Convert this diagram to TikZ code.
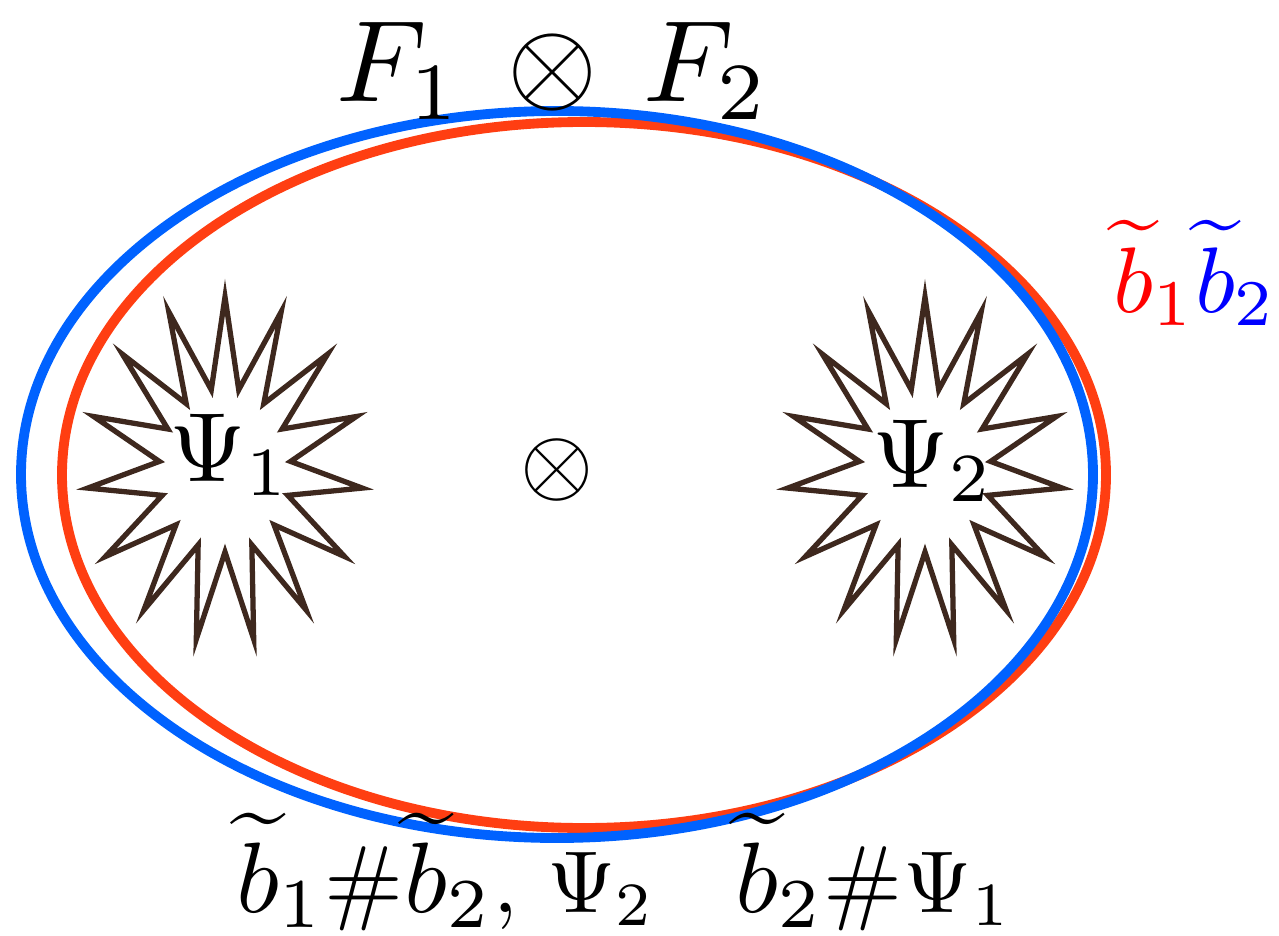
\documentclass[tikz,border=0pt]{standalone}
\usepackage{amsmath,amssymb}
\usepackage{graphicx}
\usepackage{tikz}
\usetikzlibrary{positioning,calc}
\usepackage{xcolor}
\definecolor{fblue}{RGB}{0,98,255}
\definecolor{fred}{RGB}{255,62,18}
\definecolor{sbrown}{RGB}{62,40,30}
% math blown up from 10pt
\newcommand{\sizedm}[2]{\scalebox{#1}{$#2$}}
\tikzset{
  fibre/.style     = {line width=5.6pt},
  burstline/.style = {draw=sbrown, line width=3pt, line join=miter},
  burst/.pic       = {\draw[burstline] (270:138 and 173)
                      \foreach \k in {0,...,14}{-- (282+24*\k:66 and 82) -- (294+24*\k:138 and 173)} -- cycle;},
  lab/.style       = {inner sep=0pt, anchor=base},
}
\begin{document}
\begin{tikzpicture}[x=0.02cm,y=-0.02cm]
\useasboundingbox (0,0) rectangle (1279,936);
% the two fibres
\draw[fibre,fred] (584,475) ellipse [x radius=522,y radius=353];
\draw[fibre,fblue] (557,474.5) ellipse [x radius=536,y radius=363.5];
% singular points
\pic at (225,470) {burst};
\pic at (925,470) {burst};
\node[lab] (sing1) at (230,481) {\sizedm{5.6}{\Psi_1}};
\node[lab] (sing2) at (933,487) {\sizedm{5.6}{\Psi_2}};
\node[lab] (prod) at (557,493) {\sizedm{5.35}{\otimes}};
% labels
\node[lab] (title) at (553,102) {\sizedm{6.6}{F_1\,\otimes\,F_2}};
\node[lab] (fibres) at (1195,312) {\sizedm{5.3}{\color{red}\widetilde{b}_1\color{blue}\widetilde{b}_2}};
% connected sums
\node[lab,anchor=base west] (sumb1) at (236,912) {\sizedm{5.7}{\widetilde{b}_1}};
\node[lab,base right=0pt of sumb1] (sumh1) {\sizedm{5.4}{\#}};
\node[lab,base right=0pt of sumh1] (sumb2) {\sizedm{5.7}{\widetilde{b}_2}};
\node[lab,base right=0pt of sumb2] (sump2) {\sizedm{5}{,\,\Psi_2}};
\node[lab,anchor=base west] (sumb3) at (735,912) {\sizedm{5.7}{\widetilde{b}_2}};
\node[lab,base right=0pt of sumb3] (sumh2) {\sizedm{5.4}{\#}};
\node[lab,base right=0pt of sumh2] (sump1) {\sizedm{5}{\Psi_1}};
\end{tikzpicture}
\end{document}
